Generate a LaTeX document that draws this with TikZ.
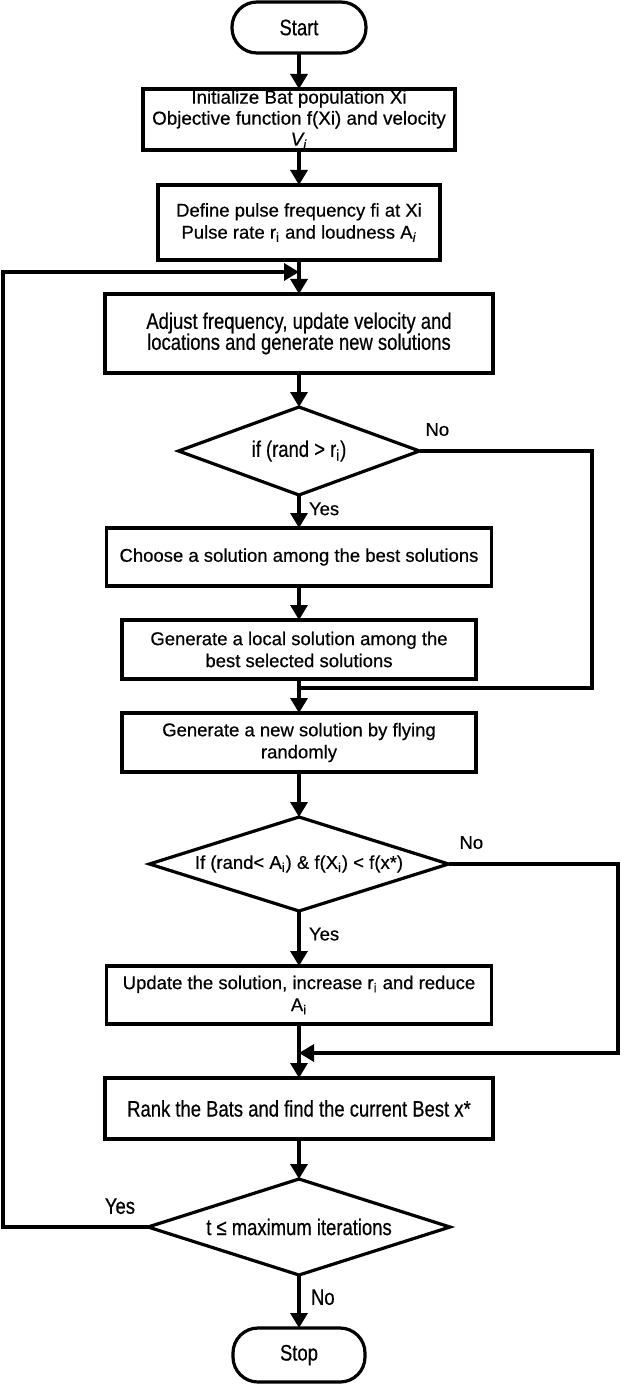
\documentclass[tikz,border=0pt]{standalone}
\usepackage{fontspec}
\setmainfont[FakeBold=0.5]{Liberation Sans}
\newfontfamily\narrowfont[FakeStretch=0.82,FakeBold=0.5]{Liberation Sans}
\usetikzlibrary{arrows.meta,positioning,shapes.geometric}
\begin{document}
\begin{tikzpicture}[x=0.5pt,y=-0.5pt,inner sep=0pt,outer sep=0pt,line width=1.6pt,
>={Triangle[length=7.5pt,width=8.5pt]},
procbox/.style={draw,rectangle,align=center,font=\fontsize{9.25}{11}\selectfont},
narrowbox/.style={draw,rectangle,align=center,font=\narrowfont\fontsize{11.25}{10.5}\selectfont},
termbox/.style={draw,rectangle,rounded corners=12.5pt,font=\narrowfont\fontsize{11.25}{13}\selectfont},
decbox/.style={draw,diamond,aspect=3.2,align=center},
lbl/.style={font=\fontsize{9.25}{11}\selectfont},
nlbl/.style={font=\narrowfont\fontsize{11.25}{13}\selectfont}]
\useasboundingbox (0,0) rectangle (628,1385);
\draw (299,27.5) node[termbox,minimum width=67pt,minimum height=25.5pt] (start) {Start};
\draw (299,119.5) node[procbox,font=\fontsize{9.4}{10.5}\selectfont,minimum width=156pt,minimum height=30.5pt] (init) {Initialize Bat population Xi\\Objective function f(Xi) and velocity\\\textit{V\textsubscript{i}}};
\draw (299,222.5) node[procbox,minimum width=141pt,minimum height=37.5pt] (define) {Define pulse frequency fi at Xi\\Pulse rate r\textsubscript{i} and loudness A\textsubscript{\itshape i}};
\draw (299,333.5) node[narrowbox,minimum width=194pt,minimum height=39.5pt] (adjust) {Adjust frequency, update velocity and\\locations and generate new solutions};
\draw (299,451) node[decbox,nlbl,minimum width=120.5pt,minimum height=44pt] (ifr) {if (rand > r\textsubscript{i})};
\draw (299,557) node[procbox,minimum width=192.5pt,minimum height=29pt] (choose) {Choose a solution among the best solutions};
\draw (299,649.5) node[procbox,minimum width=177pt,minimum height=29.5pt] (local) {Generate a local solution among the\\best selected solutions};
\draw (299,742.5) node[procbox,minimum width=177pt,minimum height=29.5pt] (fly) {Generate a new solution by flying\\randomly};
\draw (299,864) node[decbox,lbl,minimum width=149.5pt,minimum height=47pt] (ifa) {If (rand< A\textsubscript{i}) \& f(X\textsubscript{i}) < f(x*)};
\draw (299,995) node[procbox,minimum width=192.5pt,minimum height=29pt] (update) {Update the solution, increase r\textsubscript{i} and reduce\\A\textsubscript{i}};
\draw (299,1108.5) node[narrowbox,minimum width=194pt,minimum height=30.5pt] (rank) {Rank the Bats and find the current Best x*};
\draw (299,1227) node[decbox,nlbl,minimum width=151pt,minimum height=48pt] (iter) {t ≤ maximum iterations};
\draw (299,1355) node[termbox,minimum width=66pt,minimum height=27pt] (stop) {Stop};
\coordinate (loopjog) at (3,272);
\coordinate (loopjoin) at (299,272);
\coordinate (nojog1) at (592,688);
\coordinate (nojoin1) at (299,688);
\coordinate (nojog2) at (618,1053);
\coordinate (nojoin2) at (299,1053);
\draw[->] (start) -- (init);
\draw[->] (init) -- (define);
\draw[->] (define) -- (adjust);
\draw[->] (adjust) -- (ifr);
\draw[->] (ifr) -- (choose) node[lbl,pos=0.42,right=5pt] {Yes};
\draw[->] (choose) -- (local);
\draw[->] (local) -- (fly);
\draw (ifr.east) node[lbl,above right=7.5pt and 3pt] {No} -| (nojog1) -- (nojoin1);
\draw[->] (fly) -- (ifa);
\draw[->] (ifa) -- (update) node[lbl,pos=0.42,right=5pt] {Yes};
\draw[->] (ifa.east) node[lbl,above right=7.5pt and 5.5pt] {No} -| (nojog2) -- (nojoin2);
\draw[->] (update) -- (rank);
\draw[->] (rank) -- (iter);
\draw[->] (iter) -- (stop) node[nlbl,pos=0.42,right=6pt] {No};
\draw[->] (iter.west) node[nlbl,above left=6.5pt and 6.5pt] {Yes} -| (loopjog) -- (loopjoin);
\end{tikzpicture}
\end{document}
